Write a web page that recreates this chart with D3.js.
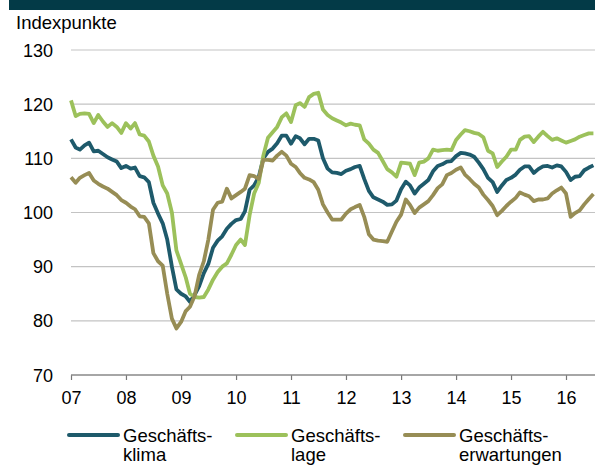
<!DOCTYPE html>
<html>

<head>
    <meta charset="utf-8">
    <script src="https://d3js.org/d3.v7.min.js" charset="utf-8"></script>
    <style>
        body { margin: 0; background: #fff; }
        text { font-family: "Liberation Sans", Arial, sans-serif; fill: #000; }
    </style>
</head>

<body>
    <div id="chart_container"></div>
    <script>
        // SVG Container
        var width = 595,
            height = 466;

        // monthly values, Jan 2007 - Jul 2016
        const klima = [
            113.5, 112.0, 111.6, 112.4, 112.9, 111.3, 111.4, 110.8, 110.2, 109.8, 109.4, 108.2,
            108.6, 108.1, 108.3, 106.7, 106.5, 105.6, 101.8, 99.8, 98.0, 95.0, 90.0, 85.8,
            85.0, 84.5, 83.5, 84.8, 86.4, 88.8, 90.5, 93.5, 94.8, 95.6, 97.0, 97.9,
            98.6, 98.8, 100.2, 104.2, 105.0, 106.6, 110.0, 111.2, 111.8, 112.8, 114.2, 114.2,
            112.7, 114.1, 113.7, 112.6, 113.6, 113.6, 113.3, 110.0, 108.1, 107.4, 107.3, 107.1,
            107.7, 108.0, 108.4, 108.6, 106.2, 104.0, 102.8, 102.4, 102.0, 101.4, 101.5, 102.2,
            104.3, 105.7, 105.0, 103.5, 104.6, 105.3, 106.0, 107.6, 108.6, 108.9, 109.4, 109.5,
            110.4, 111.0, 110.9, 110.7, 110.3, 109.2, 108.0, 106.4, 105.6, 103.8, 105.0, 106.0,
            106.4, 107.0, 107.9, 108.5, 108.5, 107.3, 108.0, 108.5, 108.6, 108.3, 108.7, 108.5,
            107.5, 106.0, 106.6, 106.7, 107.8, 108.3, 108.7
        ];
        const lage = [
            120.7, 117.8, 118.2, 118.3, 118.2, 116.5, 118.0, 116.8, 115.8, 116.5, 115.8, 114.7,
            116.5, 115.5, 116.5, 114.4, 114.2, 113.1, 110.5, 108.5, 105.0, 103.5, 100.0, 93.0,
            90.5, 88.0, 85.0, 84.4, 84.3, 84.4, 85.8, 87.6, 89.0, 90.0, 90.6, 92.2,
            94.0, 95.0, 94.0, 99.5, 103.5, 105.5, 110.5, 113.8, 114.8, 115.8, 117.6, 118.3,
            116.7, 119.8, 120.2, 119.5, 121.3, 121.9, 122.1, 119.0, 118.0, 117.4, 117.0, 116.6,
            116.1, 116.4, 116.2, 116.1, 113.5, 112.7, 111.6, 111.0, 109.5, 108.0, 107.4, 106.6,
            109.2, 109.1, 109.0, 106.9, 109.2, 109.4, 110.0, 111.6, 111.4, 111.5, 111.6, 111.5,
            113.4, 114.4, 115.2, 115.0, 114.7, 114.5, 113.9, 111.4, 110.9, 108.4, 109.4, 110.3,
            111.6, 111.6, 113.4, 114.0, 114.1, 113.0, 114.0, 114.9, 114.1, 113.4, 113.7, 113.3,
            112.9, 113.2, 113.5, 114.0, 114.3, 114.6, 114.6
        ];
        const erwartungen = [
            106.5, 105.5, 106.4, 106.9, 107.3, 105.9, 105.3, 104.8, 104.4, 103.8, 103.2, 102.3,
            101.8, 101.1, 100.6, 99.3, 99.2, 98.0, 92.5, 91.0, 90.2, 85.0, 80.4, 78.6,
            79.8, 81.8, 82.6, 84.6, 88.5, 91.0, 95.0, 100.5, 101.8, 102.0, 104.4, 102.6,
            103.2, 103.8, 104.4, 106.9, 106.7, 106.2, 109.7, 109.7, 109.6, 110.5, 111.2, 110.5,
            109.0, 108.4, 107.3, 106.4, 106.1, 105.6, 104.2, 101.5, 100.0, 98.7, 98.7, 98.7,
            99.8, 100.6, 101.0, 101.4, 99.2, 96.0, 95.0, 94.8, 94.7, 94.6, 96.5, 98.3,
            99.6, 102.4, 101.4, 99.9, 100.9, 101.5, 102.1, 103.2, 104.5, 105.2, 106.9, 107.3,
            107.9, 108.3, 107.0, 106.2, 105.3, 104.6, 103.3, 102.3, 101.2, 99.5, 100.3, 101.2,
            102.0, 102.7, 103.7, 103.3, 103.0, 102.1, 102.4, 102.4, 102.6, 103.5, 104.1, 104.6,
            103.5, 99.2, 99.9, 100.4, 101.5, 102.5, 103.4
        ];

        const yearLabels = ['07', '08', '09', '10', '11', '12', '13', '14', '15', '16'];
        const yTicks = [70, 80, 90, 100, 110, 120, 130];
        const seriesNames = [['Geschäfts-', 'klima'], ['Geschäfts-', 'lage'], ['Geschäfts-', 'erwartungen']];
        const colors = ['#1e5a6b', '#9cc15b', '#978d55'];

        const months = d3.timeMonth.range(new Date(2007, 0, 1), new Date(2016, 7, 1));
        const years = yearLabels.map((d, i) => new Date(2007 + i, 0, 1));

        var margin = { top: 50, left: 71, right: 595, bottom: 375 };

        var x = d3.scaleTime()
            .domain([new Date(2007, 0, 1), new Date(2016, 0, 1)])
            .range([margin.left, 566]);

        var y = d3.scaleLinear()
            .domain([70, 130])
            .range([margin.bottom, margin.top]);

        const svg = d3.select('#chart_container')
            .append('svg')
            .attr('width', width)
            .attr('height', height);

        // header bar
        svg.append('rect')
            .attr('x', 9).attr('y', 0)
            .attr('width', width - 9).attr('height', 10)
            .attr('fill', '#033a47');

        svg.append('text')
            .attr('x', 16).attr('y', 29)
            .style('font-size', '18.5px')
            .text('Indexpunkte');

        // gridlines
        svg.append('g')
            .selectAll('line')
            .data(yTicks.filter(d => d > 70))
            .enter().append('line')
            .attr('x1', margin.left).attr('x2', margin.right)
            .attr('y1', d => y(d)).attr('y2', d => y(d))
            .attr('stroke', '#c3c3c3')
            .attr('stroke-width', 1.2);

        // y labels
        svg.append('g')
            .selectAll('text')
            .data(yTicks)
            .enter().append('text')
            .attr('x', 53)
            .attr('y', d => y(d) + 6.5)
            .attr('text-anchor', 'end')
            .style('font-size', '18px')
            .text(d => d);

        // x axis
        const xAxis = d3.axisBottom(x)
            .tickValues(years)
            .tickSize(5)
            .tickPadding(10)
            .tickFormat((d, i) => yearLabels[i]);

        const gx = svg.append('g')
            .attr('transform', 'translate(0,' + margin.bottom + ')')
            .call(xAxis);
        gx.select('.domain').remove();
        gx.selectAll('.tick line').attr('stroke', '#777').attr('stroke-width', 1.2);
        gx.selectAll('.tick text')
            .attr('y', 29).attr('dy', null)
            .style('font-size', '18px')
            .style('font-family', '"Liberation Sans", Arial, sans-serif')
            .attr('fill', '#000');
        gx.append('line')
            .attr('x1', margin.left).attr('x2', margin.right)
            .attr('stroke', '#888').attr('stroke-width', 1.5);

        // lines
        const line = d3.line()
            .x((d, i) => x(months[i]))
            .y(d => y(d));

        [klima, lage, erwartungen].forEach((s, i) => {
            svg.append('path')
                .datum(s)
                .attr('d', line)
                .attr('fill', 'none')
                .attr('stroke', colors[i])
                .attr('stroke-width', 3.8)
                .attr('stroke-linejoin', 'round')
                .attr('stroke-linecap', 'butt');
        });

        // legend
        const legend = svg.append('g')
            .selectAll('g')
            .data(seriesNames)
            .enter().append('g')
            .attr('transform', (d, i) => 'translate(' + (69 + i * 168) + ',0)');

        legend.append('line')
            .attr('x1', 0).attr('x2', 49)
            .attr('y1', 435).attr('y2', 435)
            .attr('stroke', (d, i) => colors[i])
            .attr('stroke-width', 4)
            .attr('stroke-linecap', 'round');

        legend.append('text')
            .attr('x', 54).attr('y', 442)
            .style('font-size', '18.5px')
            .text(d => d[0]);
        legend.append('text')
            .attr('x', 54).attr('y', 461)
            .style('font-size', '18.5px')
            .text(d => d[1]);
    </script>
</body>

</html>
